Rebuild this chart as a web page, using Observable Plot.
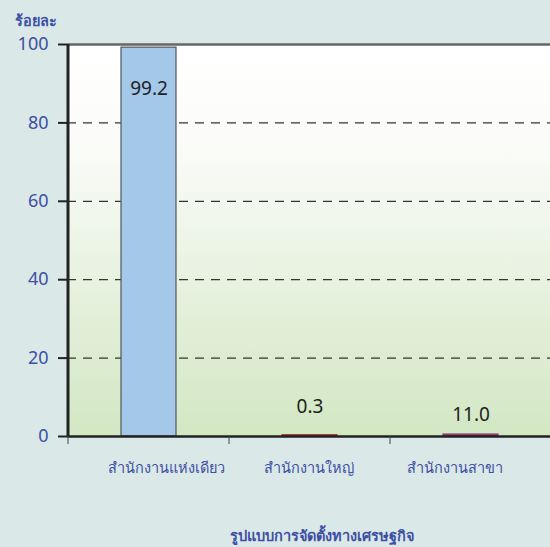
<!DOCTYPE html>
<html><head><meta charset="utf-8">
<script src="https://cdn.jsdelivr.net/npm/d3@7"></script>
<script src="https://cdn.jsdelivr.net/npm/@observablehq/plot@0.6"></script>
<style>
html,body{margin:0;padding:0;background:#dae8e8;}
</style></head>
<body><div id="chart"></div>
<script>
const categories = ["สำนักงานแห่งเดียว", "สำนักงานใหญ่", "สำนักงานสาขา"];
const values = [99.2, 0.3, 0.5];
const labels = ["99.2", "0.3", "11.0"];
const colors = ["#a3c8ea", "#9b1c1c", "#8a3a6e"];
const yTicks = [0, 20, 40, 60, 80, 100];
const gridTicks = [20, 40, 60, 80];
const yTitle = "ร้อยละ";
const xTitle = "รูปแบบการจัดตั้งทางเศรษฐกิจ";

const data = categories.map((c, i) => ({cat: c, value: values[i], label: labels[i], color: colors[i]}));
const font = "Tahoma, 'Noto Sans', 'DejaVu Sans', sans-serif";
const blue = "#3d50a3";

const defs = () => {
  const d = d3.create("svg:defs");
  const g = d.append("linearGradient").attr("id", "bg").attr("x1", 0).attr("x2", 0).attr("y1", 0).attr("y2", 1);
  g.append("stop").attr("offset", "0%").attr("stop-color", "#ffffff");
  g.append("stop").attr("offset", "25%").attr("stop-color", "#fbfcf9");
  g.append("stop").attr("offset", "100%").attr("stop-color", "#d2e7c3");
  return d.node();
};

const catLabel = (i, dx) => Plot.text([data[i]], {x: "cat", text: "cat", frameAnchor: "bottom", dy: 36, dx, fontSize: 14.5, fill: blue});

const chart = Plot.plot({
  width: 550, height: 547,
  marginTop: 44, marginBottom: 111, marginLeft: 67, marginRight: -2,
  style: {background: "#dae8e8", fontFamily: font},
  x: {domain: categories, padding: 0},
  y: {domain: [0, 100]},
  marks: [
    defs,
    Plot.frame({fill: "url(#bg)", stroke: "none"}),
    Plot.ruleY(gridTicks, {stroke: "#333", strokeWidth: 1.3, strokeDasharray: "9,7"}),
    Plot.barY(data, {x: "cat", y: "value", fill: "color", stroke: d => d.value > 50 ? "#555" : d.color, strokeWidth: 1.2, insetLeft: 53, insetRight: 53}),
    Plot.ruleY([100], {stroke: "#666", strokeWidth: 2.5}),
    Plot.ruleY([0], {stroke: "#222", strokeWidth: 2.5}),
    Plot.ruleX([categories[0]], {stroke: "#222", strokeWidth: 3, dx: -81, y1: 0, y2: 100}),
    Plot.axisY({ticks: yTicks, tickSize: 9, tickPadding: 10, fontSize: 18, color: blue, stroke: "#222", strokeWidth: 2, label: null}),
    Plot.axisX({tickSize: 8, tickFormat: () => "", dx: -81, stroke: "#444", label: null}),
    catLabel(0, 17),
    catLabel(1, -1),
    catLabel(2, -16),
    Plot.text(data.filter(d => d.value > 50), {x: "cat", y: "value", text: "label", dy: 41, fontSize: 19, fill: "#222"}),
    Plot.text(data.filter(d => d.value < 50 && d.label.length < 4), {x: "cat", y: "value", text: "label", dy: -28, fontSize: 19, fill: "#222"}),
    Plot.text(data.filter(d => d.value < 50 && d.label.length >= 4), {x: "cat", y: "value", text: "label", dy: -20, fontSize: 19, fill: "#222"}),
    Plot.text([yTitle], {frameAnchor: "top-left", dx: -53, dy: -29, textAnchor: "start", fontSize: 14.5, fontWeight: "bold", fill: blue}),
    Plot.text([xTitle], {frameAnchor: "bottom", dx: 12, dy: 104, fontSize: 14.5, fontWeight: "bold", fill: blue})
  ]
});
document.getElementById("chart").append(chart);
</script>
</body></html>
